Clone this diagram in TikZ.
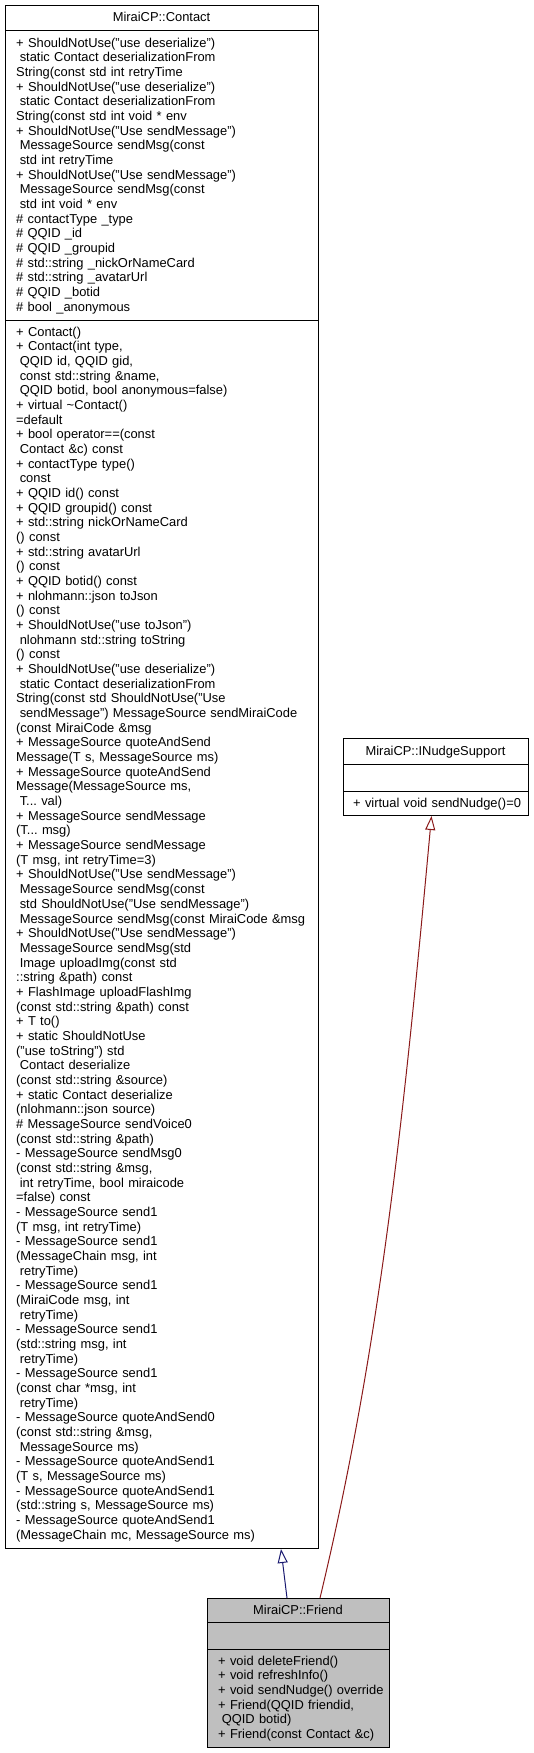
\documentclass[tikz,border=0pt]{standalone}
\usepackage{fontspec}
\setmainfont{Liberation Sans}
\usetikzlibrary{arrows.meta, calc, positioning}
\definecolor{Inhcol}{RGB}{25, 25, 112}
\definecolor{Nudgecol}{RGB}{139, 26, 26}
\definecolor{Friendfill}{RGB}{191, 191, 191}
\newcommand{\indsp}{\hspace*{0.278em}}

\begin{document}
\begin{tikzpicture}[
    x=1pt, y=-1pt,
    every node/.style={inner sep=0pt, font=\fontsize{12.9}{14.67}\selectfont\frenchspacing},
    classbox/.style={
        rectangle, anchor=north west,
        draw=black, line width=1pt, fill=white
    },
    titletext/.style={anchor=base},
    membertext/.style={anchor=north west, align=left, text width=#1},
    membertext/.default=300pt,
    sepline/.style={line width=1pt, color=black},
    inhstyle/.style={
        -{Triangle[open, length=14pt, width=10pt]},
        line width=1pt, color=Inhcol
    },
    nudgestyle/.style={
        -{Triangle[open, length=14pt, width=10pt]},
        line width=1pt, color=Nudgecol
    }
]

    % Area della figura
    \useasboundingbox (0,0) rectangle (533,1753);

    % ------------------- BOX DELLE CLASSI -------------------

    % MiraiCP::Contact (classe base)
    \node[classbox, minimum width=313pt, minimum height=1543pt] (contact) at (5,5) {};
    \draw[sepline] ($(contact.north west)+(0,26)$) -- ($(contact.north east)+(0,26)$);
    \draw[sepline] ($(contact.north west)+(0,315)$) -- ($(contact.north east)+(0,315)$);

    % MiraiCP::INudgeSupport (interfaccia)
    \node[classbox, minimum width=185pt, minimum height=77pt] (nudge) at (343,738) {};
    \draw[sepline] ($(nudge.north west)+(0,26)$) -- ($(nudge.north east)+(0,26)$);
    \draw[sepline] ($(nudge.north west)+(0,53)$) -- ($(nudge.north east)+(0,53)$);

    % MiraiCP::Friend (classe derivata)
    \node[classbox, fill=Friendfill, minimum width=182pt, minimum height=149pt] (friend) at (207,1598) {};
    \draw[sepline] ($(friend.north west)+(0,24.5)$) -- ($(friend.north east)+(0,24.5)$);
    \draw[sepline] ($(friend.north west)+(0,51)$) -- ($(friend.north east)+(0,51)$);

    % ------------------- TESTI -------------------

    \node[titletext] (tContact) at (161.5,22) {MiraiCP::Contact};

    \node[membertext] (aContact) at (16,36.73) {\strut+ ShouldNotUse("use deserialize")\\
\indsp static Contact deserializationFrom\\
String(const std int retryTime\\
+ ShouldNotUse("use deserialize")\\
\indsp static Contact deserializationFrom\\
String(const std int void * env\\
+ ShouldNotUse("Use sendMessage")\\
\indsp MessageSource sendMsg(const\\
\indsp std int retryTime\\
+ ShouldNotUse("Use sendMessage")\\
\indsp MessageSource sendMsg(const\\
\indsp std int void * env\\
\# contactType \_type\\
\# QQID \_id\\
\# QQID \_groupid\\
\# std::string \_nickOrNameCard\\
\# std::string \_avatarUrl\\
\# QQID \_botid\\
\# bool \_anonymous};

    \node[membertext] (mContact) at (16,325.73) {\strut+ Contact()\\
+ Contact(int type,\\
\indsp QQID id, QQID gid,\\
\indsp const std::string \&name,\\
\indsp QQID botid, bool anonymous=false)\\
+ virtual \textasciitilde Contact()\\
=default\\
+ bool operator==(const\\
\indsp Contact \&c) const\\
+ contactType type()\\
\indsp const\\
+ QQID id() const\\
+ QQID groupid() const\\
+ std::string nickOrNameCard\\
() const\\
+ std::string avatarUrl\\
() const\\
+ QQID botid() const\\
+ nlohmann::json toJson\\
() const\\
+ ShouldNotUse("use toJson")\\
\indsp nlohmann std::string toString\\
() const\\
+ ShouldNotUse("use deserialize")\\
\indsp static Contact deserializationFrom\\
String(const std ShouldNotUse("Use\\
\indsp sendMessage") MessageSource sendMiraiCode\\
(const MiraiCode \&msg\\
+ MessageSource quoteAndSend\\
Message(T s, MessageSource ms)\\
+ MessageSource quoteAndSend\\
Message(MessageSource ms,\\
\indsp T... val)\\
+ MessageSource sendMessage\\
(T... msg)\\
+ MessageSource sendMessage\\
(T msg, int retryTime=3)\\
+ ShouldNotUse("Use sendMessage")\\
\indsp MessageSource sendMsg(const\\
\indsp std ShouldNotUse("Use sendMessage")\\
\indsp MessageSource sendMsg(const MiraiCode \&msg\\
+ ShouldNotUse("Use sendMessage")\\
\indsp MessageSource sendMsg(std\\
\indsp Image uploadImg(const std\\
::string \&path) const\\
+ FlashImage uploadFlashImg\\
(const std::string \&path) const\\
+ T to()\\
+ static ShouldNotUse\\
("use toString") std\\
\indsp Contact deserialize\\
(const std::string \&source)\\
+ static Contact deserialize\\
(nlohmann::json source)\\
\# MessageSource sendVoice0\\
(const std::string \&path)\\
- MessageSource sendMsg0\\
(const std::string \&msg,\\
\indsp int retryTime, bool miraicode\\
=false) const\\
- MessageSource send1\\
(T msg, int retryTime)\\
- MessageSource send1\\
(MessageChain msg, int\\
\indsp retryTime)\\
- MessageSource send1\\
(MiraiCode msg, int\\
\indsp retryTime)\\
- MessageSource send1\\
(std::string msg, int\\
\indsp retryTime)\\
- MessageSource send1\\
(const char *msg, int\\
\indsp retryTime)\\
- MessageSource quoteAndSend0\\
(const std::string \&msg,\\
\indsp MessageSource ms)\\
- MessageSource quoteAndSend1\\
(T s, MessageSource ms)\\
- MessageSource quoteAndSend1\\
(std::string s, MessageSource ms)\\
- MessageSource quoteAndSend1\\
(MessageChain mc, MessageSource ms)};

    \node[titletext] (tNudge) at (435.5,755) {MiraiCP::INudgeSupport};
    \node[membertext=175pt] (mNudge) at (353,796.73) {\strut+ virtual void sendNudge()=0};

    \node[titletext] (tFriend) at (298,1614.5) {MiraiCP::Friend};
    \node[membertext=170pt] (mFriend) at (218,1654.73) {\strut+ void deleteFriend()\\
+ void refreshInfo()\\
+ void sendNudge() override\\
+ Friend(QQID friendid,\\
\indsp QQID botid)\\
+ Friend(const Contact \&c)};

    % ------------------- EREDITARIETA' -------------------

    % Friend -> Contact
    \draw[inhstyle] ([xshift=80pt]friend.north west) -- ([xshift=276pt]contact.south west);

    % Friend -> INudgeSupport
    \draw[nudgestyle] ([xshift=113pt]friend.north west) .. controls (380,1348) and (404,1115) .. ([xshift=-4.5pt]nudge.south);
\end{tikzpicture}
\end{document}
